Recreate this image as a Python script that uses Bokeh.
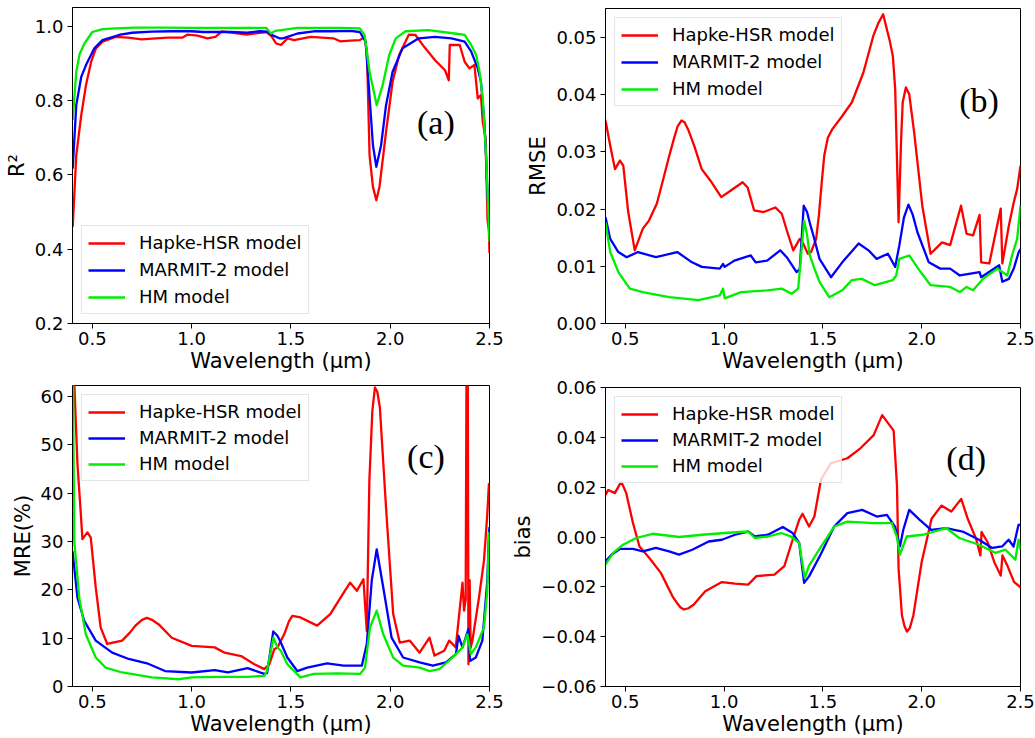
from bokeh.plotting import figure
from bokeh.layouts import column, row
from bokeh.models import Range1d, FixedTicker, CustomJSTickFormatter, Label
from bokeh.embed import file_html
from bokeh.resources import INLINE

# ---------------- data ----------------
SERIES = ["Hapke-HSR model", "MARMIT-2 model", "HM model"]
COLORS = ["#ff0000", "#0000ff", "#00ee00"]
x_ticks = [0.5, 1.0, 1.5, 2.0, 2.5]

# (a) R²
a_hapke_x = [0.401,0.419,0.444,0.468,0.494,0.518,0.551,0.617,0.68,0.749,0.82,0.881,0.955,0.98,1.03,1.079,1.12,1.153,1.22,1.277,1.376,1.40,1.426,1.45,1.483,1.516,1.599,1.714,1.748,1.80,1.847,1.871,1.883,1.896,1.913,1.93,1.946,1.979,2.012,2.045,2.094,2.127,2.177,2.226,2.276,2.295,2.30,2.35,2.375,2.399,2.424,2.441,2.457,2.466,2.48,2.49,2.497,2.5]
a_hapke_y = [0.46,0.653,0.761,0.842,0.905,0.941,0.959,0.972,0.970,0.965,0.968,0.970,0.970,0.978,0.975,0.968,0.972,0.987,0.982,0.978,0.985,0.975,0.954,0.950,0.968,0.963,0.972,0.968,0.960,0.962,0.963,0.972,0.932,0.653,0.568,0.532,0.568,0.716,0.851,0.923,0.978,0.977,0.941,0.909,0.882,0.855,0.950,0.950,0.905,0.887,0.896,0.806,0.815,0.743,0.70,0.48,0.45,0.39]
a_marmit_x = [0.401,0.419,0.444,0.468,0.51,0.551,0.634,0.70,0.799,0.90,0.995,1.06,1.129,1.20,1.28,1.343,1.38,1.40,1.442,1.46,1.533,1.615,1.70,1.80,1.847,1.876,1.893,1.913,1.93,1.954,1.979,2.012,2.062,2.144,2.226,2.309,2.375,2.408,2.441,2.457,2.474,2.483,2.49,2.5]
a_marmit_y = [0.617,0.788,0.864,0.896,0.941,0.963,0.977,0.983,0.986,0.987,0.987,0.985,0.985,0.985,0.983,0.987,0.986,0.978,0.968,0.968,0.981,0.987,0.987,0.988,0.985,0.959,0.833,0.68,0.622,0.68,0.788,0.878,0.941,0.968,0.972,0.968,0.959,0.932,0.887,0.851,0.743,0.645,0.55,0.45]
a_hm_x = [0.401,0.419,0.436,0.46,0.50,0.551,0.62,0.716,0.85,1.0,1.2,1.376,1.40,1.42,1.45,1.533,1.60,1.75,1.847,1.871,1.896,1.932,1.962,1.995,2.028,2.077,2.193,2.325,2.375,2.408,2.433,2.45,2.466,2.483,2.49,2.5]
a_hm_y = [0.748,0.878,0.926,0.954,0.985,0.993,0.995,0.997,0.997,0.996,0.996,0.996,0.981,0.988,0.990,0.996,0.996,0.996,0.995,0.977,0.878,0.788,0.842,0.923,0.968,0.987,0.990,0.981,0.977,0.950,0.923,0.878,0.806,0.653,0.554,0.42]
a_y_ticks = [0.2, 0.4, 0.6, 0.8, 1.0]

# (b) RMSE
b_hapke_x = [0.40,0.424,0.448,0.473,0.49,0.515,0.548,0.589,0.62,0.66,0.697,0.72,0.746,0.765,0.784,0.80,0.821,0.85,0.887,0.937,0.986,1.036,1.094,1.119,1.152,1.201,1.259,1.292,1.32,1.35,1.383,1.40,1.424,1.44,1.466,1.48,1.495,1.507,1.525,1.548,1.598,1.647,1.705,1.755,1.78,1.805,1.82,1.838,1.854,1.866,1.883,1.896,1.904,1.92,1.937,1.962,2.003,2.045,2.103,2.144,2.199,2.227,2.26,2.293,2.301,2.342,2.375,2.40,2.408,2.441,2.466,2.483,2.5]
b_hapke_y = [0.0355,0.0311,0.027,0.0285,0.0276,0.0195,0.0128,0.0166,0.018,0.021,0.0259,0.029,0.0323,0.0345,0.0355,0.0352,0.0337,0.031,0.027,0.0247,0.0221,0.0233,0.0247,0.0238,0.0198,0.0195,0.0203,0.0192,0.016,0.0128,0.0148,0.0140,0.0122,0.0125,0.0148,0.019,0.025,0.0294,0.0325,0.034,0.0363,0.0387,0.0439,0.0503,0.0525,0.0541,0.052,0.0495,0.0468,0.041,0.0177,0.0323,0.0387,0.0413,0.0401,0.0334,0.0206,0.0122,0.0142,0.0137,0.0206,0.0157,0.0154,0.019,0.0107,0.0105,0.016,0.0201,0.0105,0.0171,0.0212,0.0235,0.0276]
b_marmit_x = [0.40,0.424,0.465,0.507,0.564,0.655,0.763,0.838,0.887,0.978,0.995,1.003,1.052,1.135,1.16,1.218,1.284,1.317,1.367,1.383,1.403,1.42,1.433,1.455,1.483,1.541,1.598,1.681,1.731,1.772,1.829,1.866,1.887,1.91,1.933,1.955,1.978,2.036,2.094,2.144,2.193,2.293,2.301,2.392,2.408,2.441,2.466,2.491,2.5]
b_marmit_y = [0.0186,0.0148,0.0125,0.0116,0.0125,0.0116,0.0125,0.0107,0.0099,0.0096,0.0104,0.0099,0.011,0.0119,0.0107,0.011,0.0128,0.0116,0.009,0.0095,0.0206,0.0195,0.0177,0.015,0.0113,0.0081,0.0107,0.014,0.0128,0.0113,0.0122,0.0099,0.0137,0.0185,0.0208,0.019,0.016,0.0107,0.0096,0.0096,0.0084,0.009,0.0081,0.0102,0.0073,0.0078,0.0096,0.0125,0.013]
b_hm_x = [0.40,0.424,0.465,0.523,0.589,0.722,0.871,0.978,0.995,1.003,1.086,1.218,1.292,1.342,1.375,1.405,1.42,1.433,1.455,1.483,1.532,1.598,1.647,1.697,1.763,1.854,1.871,1.887,1.937,1.995,2.045,2.144,2.193,2.227,2.26,2.31,2.384,2.408,2.433,2.457,2.483,2.5]
b_hm_y = [0.0177,0.0125,0.009,0.0061,0.0055,0.0046,0.0041,0.0049,0.0061,0.0044,0.0055,0.0058,0.0061,0.0052,0.0061,0.018,0.0155,0.012,0.0098,0.0073,0.0046,0.0058,0.0076,0.0078,0.0067,0.0076,0.0084,0.0113,0.0119,0.009,0.0067,0.0064,0.0055,0.0064,0.0058,0.0078,0.0096,0.009,0.0084,0.0119,0.0148,0.0206]
b_y_ticks = [0.0, 0.01, 0.02, 0.03, 0.04, 0.05]

# (c) MRE(%)
c_hapke_x = [0.40,0.409,0.425,0.442,0.45,0.475,0.492,0.517,0.542,0.575,0.65,0.69,0.717,0.75,0.775,0.80,0.833,0.9,1.0,1.116,1.166,1.249,1.316,1.366,1.391,1.416,1.432,1.466,1.49,1.507,1.548,1.632,1.698,1.765,1.798,1.832,1.865,1.882,1.895,1.91,1.923,1.935,1.948,1.981,2.015,2.048,2.098,2.148,2.198,2.223,2.272,2.297,2.33,2.364,2.372,2.380,2.385,2.390,2.394,2.40,2.405,2.414,2.447,2.472,2.489,2.497,2.5]
c_hapke_y = [90,63,46,35.7,30.5,31.9,30.8,20.5,12.2,8.8,9.5,11.2,12.6,13.8,14.2,13.8,12.9,10.1,8.4,8.1,7.0,6.3,4.6,3.6,4.6,7.7,8.1,10.8,13.5,14.6,14.3,12.6,15.0,19.4,21.5,19.8,22.2,11.5,42.6,57.0,61.9,61.0,57.7,35.7,15.0,9.1,9.5,7.0,10.1,6.4,7.4,9.5,8.1,21.5,15.7,18.0,75,75,4.6,22.0,8.0,9.5,18.4,26.0,35.7,41.9,42.0]
c_marmit_x = [0.40,0.425,0.459,0.517,0.6,0.683,0.775,0.866,1.0,1.116,1.183,1.282,1.366,1.38,1.411,1.432,1.449,1.482,1.532,1.582,1.682,1.765,1.857,1.882,1.907,1.932,1.965,2.007,2.065,2.148,2.215,2.281,2.331,2.344,2.364,2.394,2.402,2.431,2.464,2.489,2.497,2.5]
c_marmit_y = [28.0,18.4,13.6,9.5,7.0,5.7,4.8,3.2,2.9,3.4,2.9,3.8,2.6,2.8,11.4,10.5,9.1,6.0,3.2,3.9,4.8,4.3,4.3,8.8,21.9,28.4,20.5,10.1,6.0,5.0,4.3,5.0,6.7,10.5,8.1,11.9,5.3,6.0,9.5,21.9,31.5,33.0]
c_hm_x = [0.40,0.405,0.409,0.434,0.467,0.517,0.567,0.65,0.8,0.933,1.0,1.133,1.282,1.366,1.379,1.412,1.432,1.449,1.482,1.548,1.615,1.732,1.848,1.873,1.898,1.932,1.965,2.015,2.065,2.148,2.198,2.248,2.314,2.364,2.389,2.406,2.431,2.472,2.489,2.497,2.5]
c_hm_y = [90,50,30.1,18.4,10.8,6.0,3.9,2.9,1.9,1.5,1.9,2.0,2.0,2.2,3.2,10.1,8.1,7.4,4.6,1.9,2.6,2.7,2.6,3.9,12.2,15.7,10.8,6.0,4.3,3.9,3.2,3.6,6.0,8.1,10.8,6.7,8.1,12.2,19.8,31.5,32.0]
c_y_ticks = [0, 10, 20, 30, 40, 50, 60]

# (d) bias
d_hapke_x = [0.40,0.414,0.447,0.48,0.505,0.539,0.572,0.622,0.68,0.739,0.765,0.78,0.797,0.82,0.847,0.875,0.905,0.989,1.055,1.122,1.164,1.255,1.305,1.347,1.38,1.397,1.43,1.457,1.49,1.54,1.624,1.69,1.757,1.80,1.858,1.875,1.883,1.90,1.912,1.925,1.94,1.958,2.0,2.05,2.10,2.15,2.20,2.233,2.275,2.297,2.303,2.333,2.367,2.40,2.409,2.433,2.467,2.5]
d_hapke_y = [0.0169,0.0189,0.0176,0.0222,0.0176,0.0056,-0.0038,-0.0084,-0.0144,-0.0238,-0.0268,-0.0283,-0.0291,-0.0286,-0.0271,-0.0245,-0.0218,-0.0181,-0.0187,-0.0191,-0.0157,-0.0151,-0.0117,-0.0011,0.0069,0.0093,0.0042,0.0082,0.0229,0.0296,0.0316,0.0356,0.0409,0.0489,0.0427,0.0206,-0.0127,-0.0314,-0.0355,-0.038,-0.0365,-0.0314,-0.01,0.0073,0.0126,0.0102,0.0153,0.0073,-0.0007,-0.0074,0.002,-0.002,-0.01,-0.0155,-0.0074,-0.0114,-0.018,-0.0202]
d_marmit_x = [0.40,0.43,0.472,0.539,0.589,0.655,0.722,0.772,0.839,0.922,0.989,1.055,1.122,1.155,1.222,1.297,1.347,1.38,1.405,1.43,1.49,1.557,1.624,1.699,1.773,1.824,1.865,1.89,1.907,1.937,1.99,2.048,2.124,2.207,2.29,2.357,2.407,2.44,2.465,2.49,2.5]
d_marmit_y = [-0.0098,-0.0071,-0.0048,-0.0048,-0.0058,-0.0044,-0.0058,-0.0071,-0.0051,-0.0018,-0.0011,0.0009,0.0022,0.0002,0.0009,0.004,0.0016,-0.0024,-0.0184,-0.0158,-0.0068,0.0042,0.0096,0.0109,0.0082,0.0089,0.0042,-0.0038,0.0029,0.0109,0.0069,0.0029,0.0036,0.0022,-0.0011,-0.0044,-0.0038,-0.0011,-0.0038,0.0049,0.005]
d_hm_x = [0.40,0.439,0.489,0.555,0.639,0.772,0.889,1.005,1.122,1.155,1.222,1.289,1.339,1.38,1.408,1.43,1.49,1.557,1.624,1.757,1.849,1.874,1.89,1.924,2.007,2.124,2.19,2.29,2.374,2.424,2.474,2.49,2.5]
d_hm_y = [-0.0111,-0.0064,-0.0031,-0.0004,0.0013,0.0,0.0009,0.0016,0.0022,-0.0004,0.0002,0.0016,0.0002,-0.0024,-0.0164,-0.0115,-0.004,0.0042,0.0062,0.0056,0.0056,0.0002,-0.0071,0.0002,0.0009,0.0036,-0.0004,-0.0031,-0.0064,-0.0051,-0.0091,-0.0011,-0.005]
d_y_ticks = [-0.06, -0.04, -0.02, 0.0, 0.02, 0.04, 0.06]

FONT = "DejaVu Sans"


def make_panel(width, height, borders, yrange, yticks, ydec, ylabel, series,
               legend_loc, spacing, tag, tag_xy):
    left, right, top, bottom = borders
    p = figure(width=width, height=height, output_backend="svg", toolbar_location=None,
               x_range=Range1d(0.4, 2.5), y_range=Range1d(*yrange),
               min_border_left=left, min_border_right=right,
               min_border_top=top, min_border_bottom=bottom)
    p.grid.visible = False
    p.outline_line_color = "black"
    p.outline_line_width = 1
    p.background_fill_color = "white"
    p.border_fill_color = "white"
    for (xs, ys), name, col in zip(series, SERIES, COLORS):
        p.line(xs, ys, line_color=col, line_width=2.3, legend_label=name,
               line_join="round")
    p.xaxis.ticker = FixedTicker(ticks=x_ticks)
    p.xaxis.formatter = CustomJSTickFormatter(code="return tick.toFixed(1);")
    p.yaxis.ticker = FixedTicker(ticks=yticks)
    p.yaxis.formatter = CustomJSTickFormatter(
        code="return tick.toFixed(%d).replace('-', '\u2212');" % ydec)
    p.xaxis.axis_label = "Wavelength (\u03bcm)"
    p.yaxis.axis_label = ylabel
    for ax in (p.xaxis, p.yaxis):
        ax.axis_label_text_font = FONT
        ax.axis_label_text_font_size = "21px"
        ax.axis_label_text_font_style = "normal"
        ax.axis_label_text_color = "black"
        ax.major_label_text_font = FONT
        ax.major_label_text_font_size = "18px"
        ax.major_label_text_color = "black"
        ax.major_tick_out = 5
        ax.major_tick_in = 0
        ax.minor_tick_out = 0
        ax.minor_tick_in = 0
        ax.major_label_standoff = 4
        ax.axis_label_standoff = 3
        ax.axis_line_color = "black"
        ax.major_tick_line_color = "black"
    p.xaxis.major_label_standoff = 3
    p.xaxis.axis_label_standoff = 1
    lg = p.legend[0]
    lg.location = legend_loc
    lg.margin = 9
    lg.padding = 6
    lg.spacing = spacing
    lg.glyph_width = 37
    lg.glyph_height = 20
    lg.label_height = 20
    lg.label_standoff = 14
    lg.label_text_font = FONT
    lg.label_text_font_size = "18px"
    lg.label_text_color = "black"
    lg.border_line_color = "#cccccc"
    lg.border_line_width = 1
    lg.background_fill_alpha = 0.8
    p.add_layout(Label(x=tag_xy[0], y=tag_xy[1], text=tag, text_font="Liberation Serif",
                       text_font_size="34px", text_align="center",
                       text_baseline="middle", text_color="black"))
    return p


# left column: (a) over (c); right column: (b) over (d)
pa = make_panel(508, 378, (72, 11, 7, 55), (0.2, 1.051), a_y_ticks, 1, "R\u00b2",
                [(a_hapke_x, a_hapke_y), (a_marmit_x, a_marmit_y), (a_hm_x, a_hm_y)],
                "bottom_left", 6, "(a)", (2.23, 0.74))
pc = make_panel(508, 360, (68, 19, 7, 52), (0.0, 62.3), c_y_ticks, 0, "MRE(%)",
                [(c_hapke_x, c_hapke_y), (c_marmit_x, c_marmit_y), (c_hm_x, c_hm_y)],
                "top_left", 5, "(c)", (2.18, 47.6))
pb = make_panel(527, 375, (88, 15, 8, 52), (0.0, 0.0551), b_y_ticks, 2, "RMSE",
                [(b_hapke_x, b_hapke_y), (b_marmit_x, b_marmit_y), (b_hm_x, b_hm_y)],
                "top_left", 6, "(b)", (2.29, 0.039))
pd_ = make_panel(527, 363, (92, 15, 12, 51), (-0.06, 0.06), d_y_ticks, 2, "bias",
                 [(d_hapke_x, d_hapke_y), (d_marmit_x, d_marmit_y), (d_hm_x, d_hm_y)],
                 "top_left", 5, "(d)", (2.225, 0.0316))

layout = row(column(pa, pc), column(pb, pd_))
open("out.html", "w").write(file_html(layout, INLINE))
